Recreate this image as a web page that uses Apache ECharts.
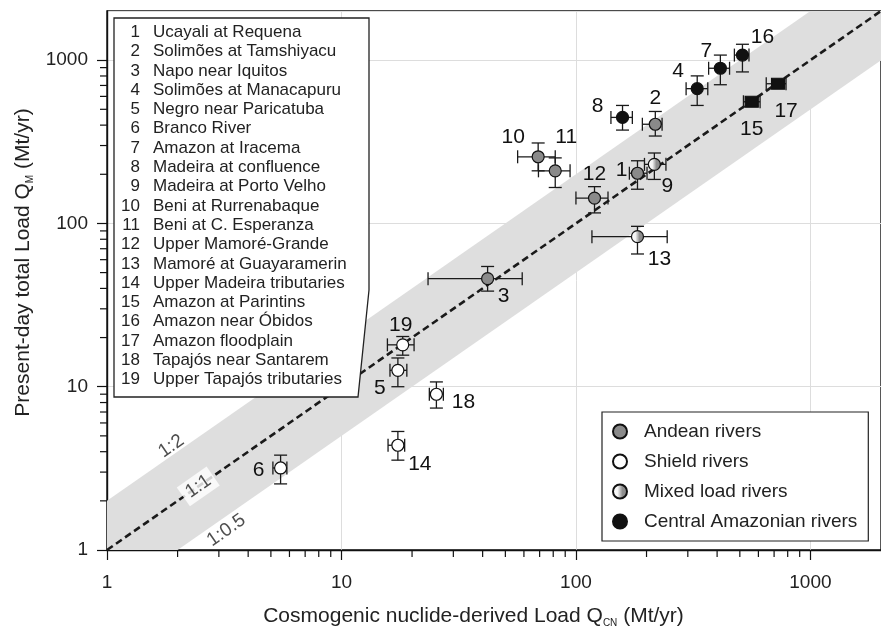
<!DOCTYPE html>
<html><head><meta charset="utf-8">
<script src="https://cdn.jsdelivr.net/npm/echarts@6/dist/echarts.min.js"></script>
<style>html,body{margin:0;padding:0;background:#fff}#c{width:881px;height:633px}</style>
</head><body><div id="c"></div>
<script>
// ---------------- data ----------------
const ids = [1,2,3,4,5,6,7,8,9,10,11,12,13,14,15,16,17,18,19];
const riverNames = ['Ucayali at Requena','Solimões at Tamshiyacu','Napo near Iquitos','Solimões at Manacapuru',
  'Negro near Paricatuba','Branco River','Amazon at Iracema','Madeira at confluence','Madeira at Porto Velho',
  'Beni at Rurrenabaque','Beni at C. Esperanza','Upper Mamoré-Grande','Mamoré at Guayaramerin',
  'Upper Madeira tributaries','Amazon at Parintins','Amazon near Óbidos','Amazon floodplain',
  'Tapajós near Santarem','Upper Tapajós tributaries'];
const qcn   = [183,218,42,329,17.4,5.5,413,158,216,69,81.6,120,183,17.4,562,513,728,25.4,18.25];
const qcnLo = [169,192,23.4,295,16.1,5.1,368,141,196,56.4,69.2,100,117,15.8,518,474,648,23.7,15.7];
const qcnHi = [201,233,59,365,19.0,5.85,452,174,242,81.6,94.4,137,245,18.6,610,547,787,27.2,20.4];
const qm    = [203,405,45.9,669,12.6,3.18,892,446,230,256,210,143,83,4.38,556,1074,717,8.99,18.05];
const qmLo  = [162,343,38.5,528,10.0,2.54,707,373,186,210,166,116,65,3.55,525,847,690,7.4,15.6];
const qmHi  = [242,485,54.5,801,15.0,3.81,1074,528,270,311,252,168,96,5.32,587,1251,745,10.7,20.3];
const groupOf = ['A','A','A','C','S','S','C','C','M','A','A','A','M','S','C','C','C','S','S'];
const groupKeys = ['A','S','M','C'];
const groupNames = ['Andean rivers','Shield rivers','Mixed load rivers','Central Amazonian rivers'];
const squareIds = [15,17];
const axisMin = 1, axisMax = 2000;
const majorTicks = [1,10,100,1000];
const minorTicks = [2,3,4,5,6,7,8,9,20,30,40,50,60,70,80,90,200,300,400,500,600,700,800,900];
const bandX = [1,2000];
const bandUpper = 2, bandLower = 0.5;
const ratioNames = ['1:2','1:1','1:0.5'];
const ratioX = [1.88,2.45,3.23];
const ratioY = [4.32,2.45,1.32];

// ---------------- style ----------------
const FONT = '"Liberation Sans", Arial, Helvetica, sans-serif';
const labelOffsets = {1:[-16,-3],2:[0,-26],3:[16,18],4:[-19,-17],5:[-18,18],6:[-22,2],7:[-14,-17],8:[-25,-11],
  9:[13,22],10:[-25,-20],11:[11,-34],12:[0,-24],13:[22,23],14:[22,19],15:[0,27],16:[20,-18],17:[8,27],18:[27,8],19:[-2,-20]};
const mixedFill = new echarts.graphic.LinearGradient(0,0,1,0,[
  {offset:0,color:'#ffffff'},{offset:0.35,color:'#f4f4f4'},{offset:0.65,color:'#8f8f8f'},{offset:1,color:'#8a8a8a'}]);
const groupColor = {A:'#8a8a8a', S:'#ffffff', M:mixedFill, C:'#111111'};

const chart = echarts.init(document.getElementById('c'), null, {renderer:'canvas'});

const errData = ids.map((id,i)=>[qcn[i],qm[i],qcnLo[i],qcnHi[i],qmLo[i],qmHi[i]]);

function renderErr(params, api){
  const x=api.value(0), y=api.value(1);
  const a=api.coord([api.value(2),y]), b=api.coord([api.value(3),y]);
  const c=api.coord([x,api.value(4)]), d=api.coord([x,api.value(5)]);
  const cap=6.5, st={stroke:'#1a1a1a', lineWidth:1.3};
  const L=(x1,y1,x2,y2)=>({type:'line', shape:{x1,y1,x2,y2}, style:st});
  return {type:'group', children:[
    L(a[0],a[1],b[0],b[1]), L(a[0],a[1]-cap,a[0],a[1]+cap), L(b[0],b[1]-cap,b[0],b[1]+cap),
    L(c[0],c[1],d[0],d[1]), L(c[0]-cap,c[1],c[0]+cap,c[1]), L(d[0]-cap,d[1],d[0]+cap,d[1])
  ]};
}
function renderBand(params, api){
  const p=[api.coord([bandX[0],bandX[0]*bandUpper]), api.coord([bandX[1],bandX[1]*bandUpper]),
           api.coord([bandX[1],bandX[1]*bandLower]), api.coord([bandX[0],bandX[0]*bandLower])];
  return {type:'polygon', shape:{points:p}, style:{fill:'#dedede'}};
}

const scatterSeries = groupKeys.map((g,gi)=>({
  name: groupNames[gi], type:'scatter', z:5, symbol:'circle', symbolSize:12,
  itemStyle:{color:groupColor[g], borderColor:'#111', borderWidth:1.2, opacity:1},
  label:{show:true, position:'inside', formatter:p=>p.name, fontSize:21, color:'#111', fontFamily:FONT, textBorderWidth:0},
  data: ids.map((id,i)=>({id,i})).filter(o=>groupOf[o.i]===g).map(o=>{
    const item={name:String(o.id), value:[qcn[o.i],qm[o.i]], label:{offset:labelOffsets[o.id]}};
    if(squareIds.includes(o.id)){ item.symbol='rect'; item.symbolSize=[13,11]; }
    return item;
  })
}));

const isPow10 = v => Math.abs(Math.log10(v)-Math.round(Math.log10(v)))<1e-6 && majorTicks.includes(Math.round(v));
const boxPolygon = {id:'box', type:'polygon', z:25, shape:{points:[[114,18],[369,18],[369,290],[358,397],[114,397]]},
    style:{fill:'#fff', stroke:'#222', lineWidth:1.3}};
const listText = {fontWeight:'normal', fontSize:17, fontFamily:FONT, color:'#222', lineHeight:19.3};

const option = {
  animation:false,
  backgroundColor:'#fff',
  textStyle:{fontFamily:FONT},
  grid:{left:107, top:11, width:782, height:546, show:true, borderColor:'#111', borderWidth:1.4, backgroundColor:'transparent'},
  xAxis:{type:'log', logBase:10, min:axisMin, max:axisMax,
    axisLine:{show:true, lineStyle:{color:'#111', width:1.4}},
    axisTick:{show:true, length:10, lineStyle:{color:'#111', width:1.2}},
    axisLabel:{fontSize:19, color:'#222', margin:23, fontFamily:FONT, showMaxLabel:false,
      formatter:v=>isPow10(v)?String(Math.round(v)):''},
    splitLine:{show:true, lineStyle:{color:'#dddddd', width:1}},
    name:'{a|Cosmogenic nuclide-derived Load Q}{s|CN}{a| (Mt/yr)}', nameLocation:'middle', nameGap:54,
    nameTextStyle:{padding:[0,41,0,0], rich:{a:{fontSize:21,color:'#222',fontFamily:FONT,lineHeight:24},
      s:{fontSize:10,color:'#222',fontFamily:FONT,verticalAlign:'bottom',lineHeight:24}}}
  },
  yAxis:{type:'log', logBase:10, min:axisMin, max:axisMax,
    axisLine:{show:true, lineStyle:{color:'#111', width:1.4}},
    axisTick:{show:true, length:10, lineStyle:{color:'#111', width:1.2}},
    axisLabel:{fontSize:19, color:'#222', margin:19, fontFamily:FONT, showMaxLabel:false,
      formatter:v=>isPow10(v)?String(Math.round(v)):''},
    splitLine:{show:true, lineStyle:{color:'#dddddd', width:1}},
    name:'{a|Present-day total Load Q}{s|M}{a| (Mt/yr)}', nameLocation:'middle', nameGap:64, nameRotate:90,
    nameTextStyle:{padding:[0,0,0,36], rich:{a:{fontSize:21,color:'#222',fontFamily:FONT,lineHeight:24},
      s:{fontSize:10,color:'#222',fontFamily:FONT,verticalAlign:'bottom',lineHeight:24}}}
  },
  legend:{data:groupNames, orient:'vertical', left:602, top:412, padding:[10,11,10,10],
    itemWidth:14, itemHeight:14, itemGap:11, backgroundColor:'#fff', borderColor:'#222', borderWidth:1.2,
    textStyle:{fontSize:19, color:'#222', fontFamily:FONT, lineHeight:19, padding:[0,0,0,12]}, z:20,
    selectedMode:false},
  title:[
    {text: ids.join('\n'), left:140, top:22.6, padding:0, z:30, textAlign:'right', textStyle:listText},
    {text: riverNames.join('\n'), left:153, top:22.6, padding:0, z:30, textAlign:'left', textStyle:listText}
  ],
  graphic:[boxPolygon],
  series:[
    {type:'custom', z:1, clip:true, renderItem:renderBand, data:[[bandX[0],bandX[0]]], silent:true},
    {type:'line', z:2, data:bandX.map(v=>[v,v]), showSymbol:false, symbol:'none', silent:true,
      lineStyle:{color:'#1a1a1a', width:2.6, type:[7,4]}},
    {type:'scatter', z:3, symbolSize:1, silent:true, itemStyle:{color:'rgba(0,0,0,0)'},
      label:{show:true, position:'inside', formatter:'{b}', rotate:35, fontSize:19, color:'#222', fontFamily:FONT},
      data: ratioNames.map((n,i)=>({name:n, value:[ratioX[i],ratioY[i]],
        label: n==='1:1' ? {backgroundColor:'#fff', padding:[2,5]} : {}}))},
    {type:'custom', z:4, clip:false, renderItem:renderErr, data:errData, silent:true},
    ...scatterSeries
  ]
};
chart.setOption(option);

// minor ticks (log-spaced 2..9 per decade), positioned through the chart's own axis scales
const tickEls = [];
minorTicks.forEach((v,k)=>{
  const px = chart.convertToPixel({gridIndex:0},[v,axisMin]);
  const py = chart.convertToPixel({gridIndex:0},[axisMin,v]);
  tickEls.push({id:'mx'+k, type:'line', z:6, shape:{x1:px[0],y1:px[1],x2:px[0],y2:px[1]+7}, style:{stroke:'#111',lineWidth:1.2}});
  tickEls.push({id:'my'+k, type:'line', z:6, shape:{x1:py[0],y1:py[1],x2:py[0]-7,y2:py[1]}, style:{stroke:'#111',lineWidth:1.2}});
});
chart.setOption({graphic:[boxPolygon, ...tickEls]});
</script></body></html>
